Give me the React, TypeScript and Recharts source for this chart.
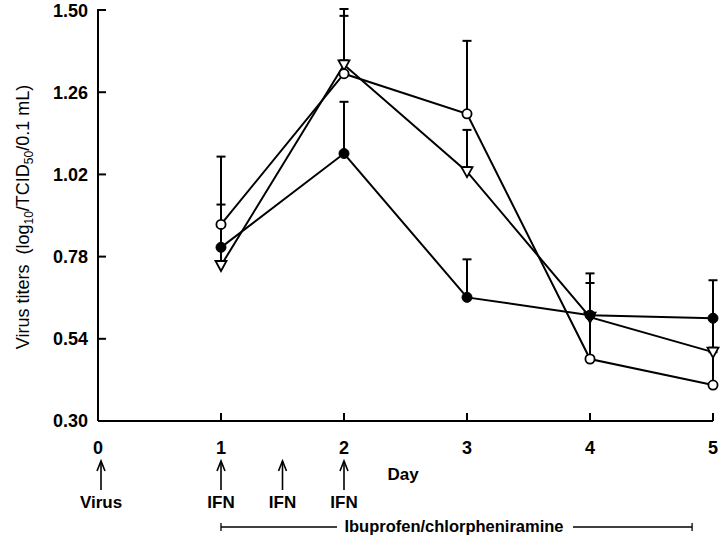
import { ComposedChart, Line, Scatter, XAxis, YAxis, ErrorBar } from "recharts";

// days after inoculation
const days = [1, 2, 3, 4, 5];

// three treatment groups (log10 TCID50 / 0.1 mL), upper SD only
const openCircle = [0.874, 1.314, 1.197, 0.481, 0.405];
const openCircleErr = [0.198, 0.169, 0.213, 0.128, 0.096];
const openTriangle = [0.754, 1.34, 1.028, 0.603, 0.501];
const openTriangleErr = [0.053, 0.163, 0.122, 0.1, 0.099];
const filledCircle = [0.807, 1.081, 0.661, 0.609, 0.6];
const filledCircleErr = [0.125, 0.151, 0.111, 0.122, 0.111];

const xTicks = [0, 1, 2, 3, 4, 5];
const yTicks = [0.3, 0.54, 0.78, 1.02, 1.26, 1.5];

// dosing schedule under the axis
const doseDays = [0, 1, 1.5, 2];
const doseLabels = ["Virus", "IFN", "IFN", "IFN"];
const treatmentStart = 1;
const treatmentEnd = 4.83;
const treatmentLabel = "Ibuprofen/chlorpheniramine";

const W = 720;
const H = 538;
const margin = { top: 9, right: 7, bottom: 87, left: 0 };
const Y_AXIS_W = 98;
const X_AXIS_H = 30;
const plotLeft = margin.left + Y_AXIS_W;
const plotRight = W - margin.right;
const plotTop = margin.top;
const plotBottom = H - margin.bottom - X_AXIS_H;
const xOf = (d: number) => plotLeft + (d / 5) * (plotRight - plotLeft);
// triangle's flat top sits this far above its centre, so the lower cap hides under it
const TRI_HALF = 4.5;
const triCapShift = (TRI_HALF / (plotBottom - plotTop)) * (1.5 - 0.3);

const data = days.map((d, i) => ({
  day: d,
  open: openCircle[i],
  openErr: [0, openCircleErr[i]],
  tri: openTriangle[i],
  triErr: [-triCapShift, openTriangleErr[i]],
  filled: filledCircle[i],
  filledErr: [0, filledCircleErr[i]],
}));

const SANS = "'Liberation Sans', Arial, sans-serif";
const NARROW = "'Liberation Sans Narrow', 'Liberation Sans', Arial, sans-serif";

const OpenDot = (p: any) => (
  <circle cx={p.cx} cy={p.cy} r={4.6} fill="#fff" stroke="#000" strokeWidth={1.8} />
);
const FilledDot = (p: any) => (
  <circle cx={p.cx} cy={p.cy} r={5} fill="#000" stroke="#000" strokeWidth={1} />
);
const TriDot = (p: any) => (
  <path
    d={`M${p.cx - 5.5},${p.cy - TRI_HALF} L${p.cx + 5.5},${p.cy - TRI_HALF} L${p.cx},${p.cy + 5.5} Z`}
    fill="#fff"
    stroke="#000"
    strokeWidth={1.8}
  />
);

// width is the half-width of the cap
const errProps = { width: 4.5, stroke: "#000", strokeWidth: 2, direction: "y" as const, isAnimationActive: false };

export default function App() {
  return (
    <div style={{ position: "fixed", left: 0, top: 0, width: W, height: H, background: "#fff" }}>
      <ComposedChart width={W} height={H} data={data} margin={margin}>
        <XAxis
          dataKey="day"
          type="number"
          domain={[0, 5]}
          ticks={xTicks}
          height={X_AXIS_H}
          axisLine={{ stroke: "#000", strokeWidth: 2 }}
          tickLine={{ stroke: "#000", strokeWidth: 2 }}
          tickSize={-8}
          tickMargin={28}
          tick={{ fill: "#000", fontSize: 18, fontWeight: 700, fontFamily: SANS }}
        />
        <YAxis
          type="number"
          domain={[0.3, 1.5]}
          ticks={yTicks}
          width={Y_AXIS_W}
          axisLine={{ stroke: "#000", strokeWidth: 2 }}
          tickLine={{ stroke: "#000", strokeWidth: 2 }}
          tickSize={-8}
          tickMargin={18}
          tickFormatter={(v: number) => v.toFixed(2)}
          tick={{ fill: "#000", fontSize: 18, fontWeight: 700, fontFamily: SANS }}
        />
        <Line dataKey="tri" type="linear" stroke="#000" strokeWidth={2} dot={false} activeDot={false} isAnimationActive={false}>
          <ErrorBar dataKey="triErr" {...errProps} />
        </Line>
        <Line dataKey="open" type="linear" stroke="#000" strokeWidth={2} dot={false} activeDot={false} isAnimationActive={false}>
          <ErrorBar dataKey="openErr" {...errProps} />
        </Line>
        <Line dataKey="filled" type="linear" stroke="#000" strokeWidth={2} dot={false} activeDot={false} isAnimationActive={false}>
          <ErrorBar dataKey="filledErr" {...errProps} />
        </Line>
        {/* markers on top of the error bars */}
        <Scatter dataKey="tri" shape={TriDot} isAnimationActive={false} />
        <Scatter dataKey="open" shape={OpenDot} isAnimationActive={false} />
        <Scatter dataKey="filled" shape={FilledDot} isAnimationActive={false} />
      </ComposedChart>

      {/* axis title + dosing schedule */}
      <svg width={W} height={H} style={{ position: "absolute", left: 0, top: 0, pointerEvents: "none" }}>
        <text
          transform="translate(29, 217) rotate(-90)"
          textAnchor="middle"
          fontSize={18}
          fontFamily={SANS}
          fill="#000"
          style={{ whiteSpace: "pre" }}
        >
          {"Virus titers  (log"}
          <tspan dy={4} fontSize={12}>10</tspan>
          <tspan dy={-4}>/TCID</tspan>
          <tspan dy={4} fontSize={12}>50</tspan>
          <tspan dy={-4}>/0.1 mL)</tspan>
        </text>

        <text x={403} y={480} textAnchor="middle" fontSize={17} fontWeight={700} fontFamily={SANS} fill="#000">
          Day
        </text>

        {doseDays.map((d, i) => {
          const x = xOf(d) + (i === 0 ? 3 : 0);
          return (
            <g key={i} stroke="#000" strokeWidth={1.6} fill="none">
              <line x1={x} y1={461} x2={x} y2={490} />
              <polyline points={`${x - 4},${471} ${x},${461} ${x + 4},${471}`} />
              <text
                x={x}
                y={508}
                textAnchor="middle"
                fontSize={17}
                fontWeight={700}
                fontFamily={NARROW}
                fill="#000"
                stroke="none"
              >
                {doseLabels[i]}
              </text>
            </g>
          );
        })}

        <g stroke="#000" strokeWidth={1.3}>
          <line x1={xOf(treatmentStart)} y1={527} x2={337} y2={527} />
          <line x1={xOf(treatmentStart)} y1={523} x2={xOf(treatmentStart)} y2={531} />
          <line x1={573} y1={527} x2={xOf(treatmentEnd)} y2={527} />
          <line x1={xOf(treatmentEnd)} y1={523} x2={xOf(treatmentEnd)} y2={531} />
        </g>
        <text x={454} y={532} textAnchor="middle" fontSize={16.5} fontWeight={700} fontFamily={NARROW} fill="#000">
          {treatmentLabel}
        </text>
      </svg>
    </div>
  );
}
